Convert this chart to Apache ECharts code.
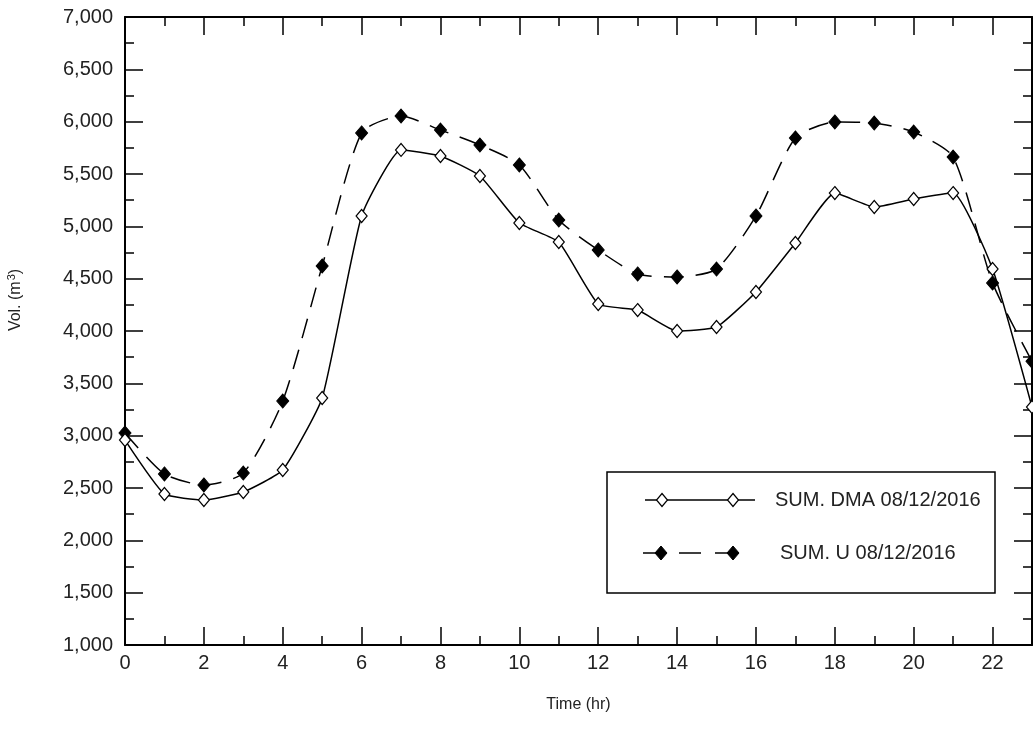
<!DOCTYPE html>
<html>
<head>
<meta charset="utf-8">
<script src="https://cdn.jsdelivr.net/npm/echarts@6/dist/echarts.min.js"></script>
<style>
  html, body { margin: 0; padding: 0; background: #fff; }
  #chart { width: 1033px; height: 745px; }
</style>
</head>
<body>
<div id="chart"></div>
<script>
// hours 0..23
const hours = [0, 1, 2, 3, 4, 5, 6, 7, 8, 9, 10, 11, 12, 13, 14, 15, 16, 17, 18, 19, 20, 21, 22, 23]
const sumDma = [2958, 2443, 2385, 2462, 2672, 3360, 5099, 5730, 5672, 5481, 5032, 4850,
  4258, 4200, 4000, 4038, 4373, 4841, 5318, 5185, 5261, 5318, 4592, 3274]
const sumU = [3025, 2634, 2529, 2643, 3331, 4621, 5892, 6054, 5920, 5777, 5586, 5060,
  4774, 4545, 4516, 4592, 5099, 5844, 5997, 5987, 5901, 5662, 4459, 3710]
const seriesNames = ['SUM. DMA 08/12/2016', 'SUM. U 08/12/2016']

const font = 'Liberation Sans, Arial, sans-serif'
const fmt = v => v.toLocaleString('en-US')

const chart = echarts.init(document.getElementById('chart'))

const tickCommon = {
  axisLine: { show: true, onZero: false, lineStyle: { color: '#000', width: 2 } },
  axisTick: { show: true, inside: true, length: 18, lineStyle: { color: '#000', width: 1.5 } },
  minorTick: { show: true, splitNumber: 2, length: 9, lineStyle: { color: '#000', width: 1.5 } },
  splitLine: { show: false },
  minorSplitLine: { show: false },
}

const diamond = (cx, cy, w, h) => [[cx, cy - h / 2], [cx + w / 2, cy], [cx, cy + h / 2], [cx - w / 2, cy]]

chart.setOption({
  animation: false,
  backgroundColor: '#fff',
  grid: { left: 125, top: 17, right: 1, bottom: 100, containLabel: false, outerBoundsMode: 'none' },
  xAxis: [
    {
      type: 'value', min: 0, max: 23, interval: 2, position: 'bottom',
      name: 'Time (hr)', nameLocation: 'middle', nameGap: 52,
      nameTextStyle: { fontFamily: font, fontSize: 16, color: '#222' },
      axisLabel: { fontFamily: font, fontSize: 20, color: '#222', margin: 8, showMaxLabel: false },
      ...tickCommon,
    },
    {
      type: 'value', min: 0, max: 23, interval: 2, position: 'top',
      axisLabel: { show: false },
      ...tickCommon,
    },
  ],
  yAxis: [
    {
      type: 'value', min: 1000, max: 7000, interval: 500, position: 'left',
      name: '{a|Vol. (m}{s|3}{a|)}', nameLocation: 'middle', nameGap: 100,
      nameTextStyle: {
        padding: [0, 0, 0, 62],
        rich: {
          a: { fontFamily: font, fontSize: 16, color: '#222' },
          s: { fontFamily: font, fontSize: 11, color: '#222', verticalAlign: 'top', padding: [0, 0, 8, 1] },
        },
      },
      axisLabel: { fontFamily: font, fontSize: 20, color: '#222', margin: 12, formatter: fmt },
      ...tickCommon,
    },
    {
      type: 'value', min: 1000, max: 7000, interval: 500, position: 'right',
      axisLabel: { show: false },
      ...tickCommon,
    },
  ],
  series: [
    {
      name: seriesNames[0],
      type: 'line',
      data: hours.map((h, i) => [h, sumDma[i]]),
      smooth: 0.15,
      symbol: 'diamond',
      symbolSize: [11, 13],
      itemStyle: { color: '#fff', borderColor: '#000', borderWidth: 1.2 },
      lineStyle: { color: '#000', width: 1.5 },
      z: 3,
    },
    {
      name: seriesNames[1],
      type: 'line',
      data: hours.map((h, i) => [h, sumU[i]]),
      smooth: 0.22,
      symbol: 'diamond',
      symbolSize: [12, 14],
      itemStyle: { color: '#000', borderColor: '#000', borderWidth: 1 },
      lineStyle: { color: '#000', width: 1.5, type: [20, 12] },
      z: 2,
    },
  ],
  graphic: [
    {
      type: 'group',
      z: 100,
      children: [
        { type: 'rect', shape: { x: 607, y: 472, width: 388, height: 121 }, style: { fill: '#fff', stroke: '#000', lineWidth: 1.5 } },
        { type: 'line', shape: { x1: 645, y1: 500, x2: 755, y2: 500 }, style: { stroke: '#000', lineWidth: 1.5 } },
        { type: 'polygon', shape: { points: diamond(662, 500, 11, 13) }, style: { fill: '#fff', stroke: '#000', lineWidth: 1.2 } },
        { type: 'polygon', shape: { points: diamond(733, 500, 11, 13) }, style: { fill: '#fff', stroke: '#000', lineWidth: 1.2 } },
        { type: 'text', x: 775, y: 500, style: { text: seriesNames[0], font: '20px ' + font, fill: '#222', verticalAlign: 'middle' } },
        { type: 'line', shape: { x1: 643, y1: 553, x2: 737, y2: 553 }, style: { stroke: '#000', lineWidth: 1.5, lineDash: [22, 14] } },
        { type: 'polygon', shape: { points: diamond(661, 553, 12, 14) }, style: { fill: '#000', stroke: '#000', lineWidth: 1 } },
        { type: 'polygon', shape: { points: diamond(733, 553, 12, 14) }, style: { fill: '#000', stroke: '#000', lineWidth: 1 } },
        { type: 'text', x: 780, y: 553, style: { text: seriesNames[1], font: '20px ' + font, fill: '#222', verticalAlign: 'middle' } },
      ],
    },
  ],
})
</script>
</body>
</html>
